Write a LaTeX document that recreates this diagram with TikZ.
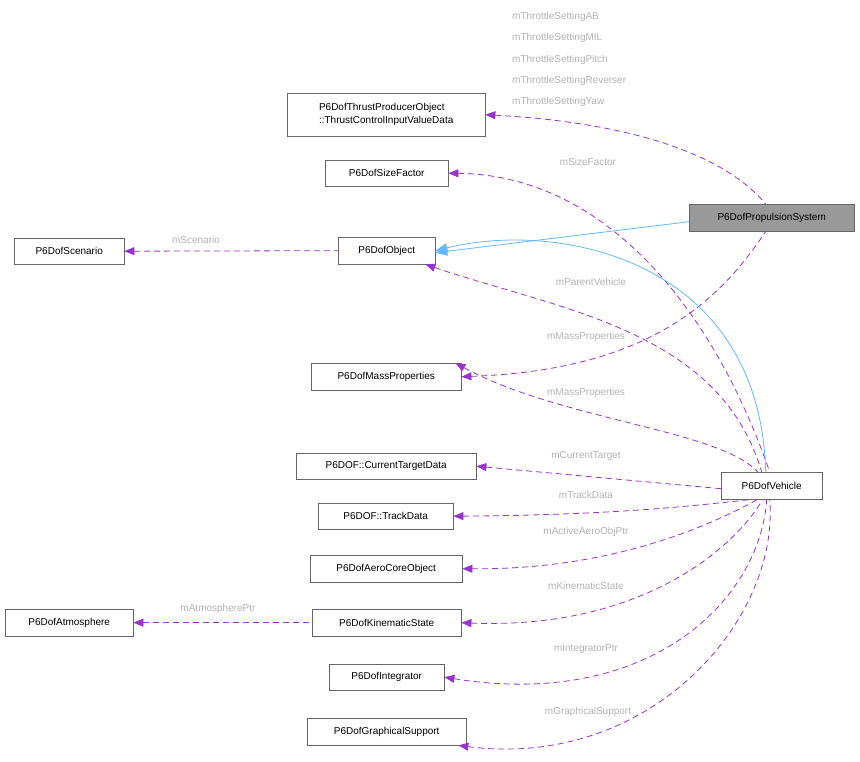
\documentclass[tikz,border=0pt]{standalone}
\usepackage{fontspec}
\setmainfont{Liberation Sans}
\usetikzlibrary{arrows.meta}
\begin{document}
\begin{tikzpicture}[x=1pt,y=-1pt]
\definecolor{dp}{HTML}{9A32CD}
\definecolor{ib}{HTML}{63B8FF}
\tikzset{
  box/.style={draw=black!60,fill=white,font=\fontsize{10}{12.5}\selectfont,inner sep=0pt,anchor=north west},
  lbl/.style={text=black!30,font=\fontsize{10}{12}\selectfont,inner sep=0pt},
  dep/.style={draw=dp,dash pattern=on 6pt off 4pt,thick,{Triangle[length=10pt,width=8pt,fill=dp]}-},
  inh/.style={draw=ib,thick,{Triangle[length=12pt,width=9pt,fill=ib]}-}}
\useasboundingbox (0,0) rectangle (860,762);
\newcommand{\mybox}[6][]{\node[box,minimum width=#4,minimum height=#5,#1] (#2) at (#3) {#6};}
\mybox{thrust}{287,93}{198pt}{43pt}{\begin{tabular}{@{}l@{}}P6DofThrustProducerObject\\::ThrustControlInputValueData\end{tabular}}
\mybox{size}{325,160}{123pt}{26pt}{P6DofSizeFactor}
\mybox[fill=black!40]{prop}{689,204}{165pt}{27pt}{P6DofPropulsionSystem}
\mybox{scen}{14,238}{110pt}{26pt}{P6DofScenario}
\mybox{obj}{338,237}{97pt}{27pt}{P6DofObject}
\mybox{mass}{311,363}{150pt}{27pt}{P6DofMassProperties}
\mybox{veh}{721,472}{101pt}{27pt}{P6DofVehicle}
\mybox{ctd}{296,453}{180pt}{26pt}{P6DOF::CurrentTargetData}
\mybox{track}{318,503}{135pt}{26pt}{P6DOF::TrackData}
\mybox{aero}{310,555}{152pt}{27pt}{P6DofAeroCoreObject}
\mybox{kin}{312,609}{149pt}{27pt}{P6DofKinematicState}
\mybox{atm}{5,609}{128pt}{27pt}{P6DofAtmosphere}
\mybox{integ}{329,664}{115pt}{26pt}{P6DofIntegrator}
\mybox{graph}{307,718}{159pt}{27pt}{P6DofGraphicalSupport}
% dependencies
\draw[dep] (thrust.east) .. controls (620,122) and (720,150) .. ([xshift=-6pt]prop.north);
\draw[dep] (size.east) .. controls (600,175) and (710,300) .. ([xshift=-2pt]veh.north);
\draw[dep] (scen.east) -- (obj.west);
\draw[dep] ([xshift=-10pt]obj.south east) .. controls (560,310) and (720,330) .. ([xshift=-10pt]veh.north);
\draw[dep] (mass.east) .. controls (650,370) and (720,300) .. ([xshift=-6pt]prop.south);
\draw[dep] ([xshift=-6pt]mass.north east) .. controls (560,420) and (720,430) .. ([xshift=-14pt]veh.north);
\draw[dep] (ctd.east) -- ([yshift=-3pt]veh.west);
\draw[dep] (track.east) .. controls (620,515) and (700,505) .. ([xshift=-20pt]veh.south);
\draw[dep] (aero.east) .. controls (620,570) and (720,520) .. ([xshift=-14pt]veh.south);
\draw[dep] (kin.east) .. controls (650,630) and (740,540) .. ([xshift=-9pt]veh.south);
\draw[dep] (atm.east) -- (kin.west);
\draw[dep] (integ.east) .. controls (650,710) and (760,600) .. ([xshift=-5pt]veh.south);
\draw[dep] ([xshift=-8pt]graph.south east) .. controls (650,770) and (780,620) .. ([xshift=-2pt]veh.south);
% inheritance
\draw[inh] ([yshift=-2pt]obj.east) -- ([yshift=-4pt]prop.west);
\draw[inh] ([yshift=0pt]obj.east) .. controls (560,220) and (760,260) .. ([xshift=-6pt]veh.north);
% labels
\node[lbl,anchor=west] at (512,17) (l1) {mThrottleSettingAB};
\node[lbl,anchor=west] at (512,38) (l2) {mThrottleSettingMIL};
\node[lbl,anchor=west] at (512,60) (l3) {mThrottleSettingPitch};
\node[lbl,anchor=west] at (512,81) (l4) {mThrottleSettingReverser};
\node[lbl,anchor=west] at (512,102) (l5) {mThrottleSettingYaw};
\node[lbl] at (588,162) (l6) {mSizeFactor};
\node[lbl] at (196,240) (l7) {mScenario};
\node[lbl] at (591,282) (l8) {mParentVehicle};
\node[lbl] at (586,337) (l9) {mMassProperties};
\node[lbl] at (586,393) (l10) {mMassProperties};
\node[lbl] at (586,456) (l11) {mCurrentTarget};
\node[lbl] at (586,495) (l12) {mTrackData};
\node[lbl] at (586,532) (l13) {mActiveAeroObjPtr};
\node[lbl] at (586,586) (l14) {mKinematicState};
\node[lbl] at (218,609) (l15) {mAtmospherePtr};
\node[lbl] at (586,649) (l16) {mIntegratorPtr};
\node[lbl] at (588,712) (l17) {mGraphicalSupport};
\end{tikzpicture}
\end{document}
